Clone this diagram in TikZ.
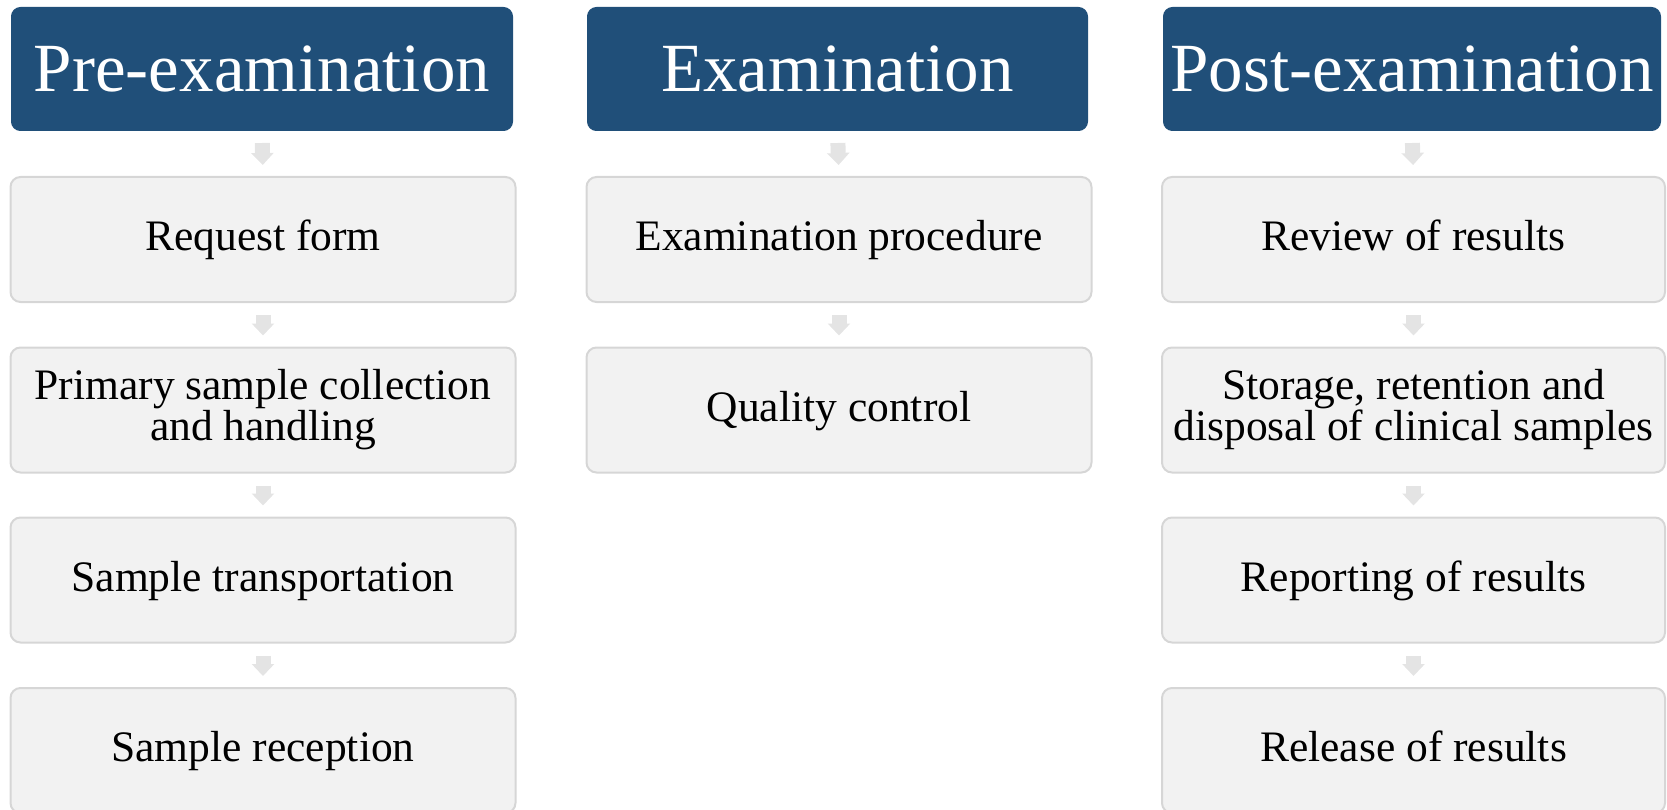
\documentclass[tikz,border=0pt]{standalone}
\usepackage{fontspec}
\setmainfont{Liberation Serif}
\usetikzlibrary{arrows.meta}
\definecolor{headblue}{RGB}{32,79,121}
\definecolor{boxfill}{RGB}{242,242,242}
\definecolor{boxline}{RGB}{214,214,214}
\definecolor{arrowgray}{RGB}{228,228,228}
\tikzset{
  header/.style={draw=headblue, fill=headblue, rounded corners=9pt, line width=1pt,
    minimum height=123pt, inner sep=0pt, text=white,
    font=\fontsize{69}{78}\selectfont, anchor=north west},
  stepbox/.style={draw=boxline, fill=boxfill, rounded corners=10pt, line width=2pt,
    minimum height=125pt, inner sep=0pt, align=center, text=black,
    font=\fontsize{43.5}{41}\selectfont, anchor=north west},
  oneline/.style={text height=30pt, text depth=8pt},
  flow/.style={draw=arrowgray, line width=15pt,
    -{Triangle[length=12pt, width=22pt]},
    shorten <=12pt, shorten >=11pt},
}
\begin{document}
\begin{tikzpicture}[x=1pt, y=-1pt]
\useasboundingbox (0,0) rectangle (1667,810);
\clip (0,0) rectangle (1667,810);
% column headers
\node[header, minimum width=501pt] (h1) at (11,7) {Pre-examination};
\node[header, minimum width=500pt] (h2) at (587,7) {Examination};
\node[header, minimum width=497pt] (h3) at (1163,7) {Post-examination};
% pre-examination steps
\node[stepbox, oneline, minimum width=505pt] (a1) at (9.5,176) {Request form};
\node[stepbox, minimum width=505pt] (a2) at (9.5,346.5) {Primary sample collection\\and handling};
\node[stepbox, oneline, minimum width=505pt] (a3) at (9.5,516.5) {Sample transportation};
\node[stepbox, oneline, minimum width=505pt] (a4) at (9.5,687) {Sample reception};
% examination steps
\node[stepbox, oneline, minimum width=505pt] (b1) at (585.5,176) {Examination procedure};
\node[stepbox, oneline, minimum width=505pt] (b2) at (585.5,346.5) {Quality control};
% post-examination steps
\node[stepbox, oneline, minimum width=503pt] (c1) at (1161,176) {Review of results};
\node[stepbox, minimum width=503pt] (c2) at (1161,346.5) {Storage, retention and\\disposal of clinical samples};
\node[stepbox, oneline, minimum width=503pt] (c3) at (1161,516.5) {Reporting of results};
\node[stepbox, oneline, minimum width=503pt] (c4) at (1161,687) {Release of results};
% flow arrows
\draw[flow] (h1.south) -- (a1.north);
\draw[flow] (a1.south) -- (a2.north);
\draw[flow] (a2.south) -- (a3.north);
\draw[flow] (a3.south) -- (a4.north);
\draw[flow] (h2.south) -- (b1.north);
\draw[flow] (b1.south) -- (b2.north);
\draw[flow] (h3.south) -- (c1.north);
\draw[flow] (c1.south) -- (c2.north);
\draw[flow] (c2.south) -- (c3.north);
\draw[flow] (c3.south) -- (c4.north);
\end{tikzpicture}
\end{document}
